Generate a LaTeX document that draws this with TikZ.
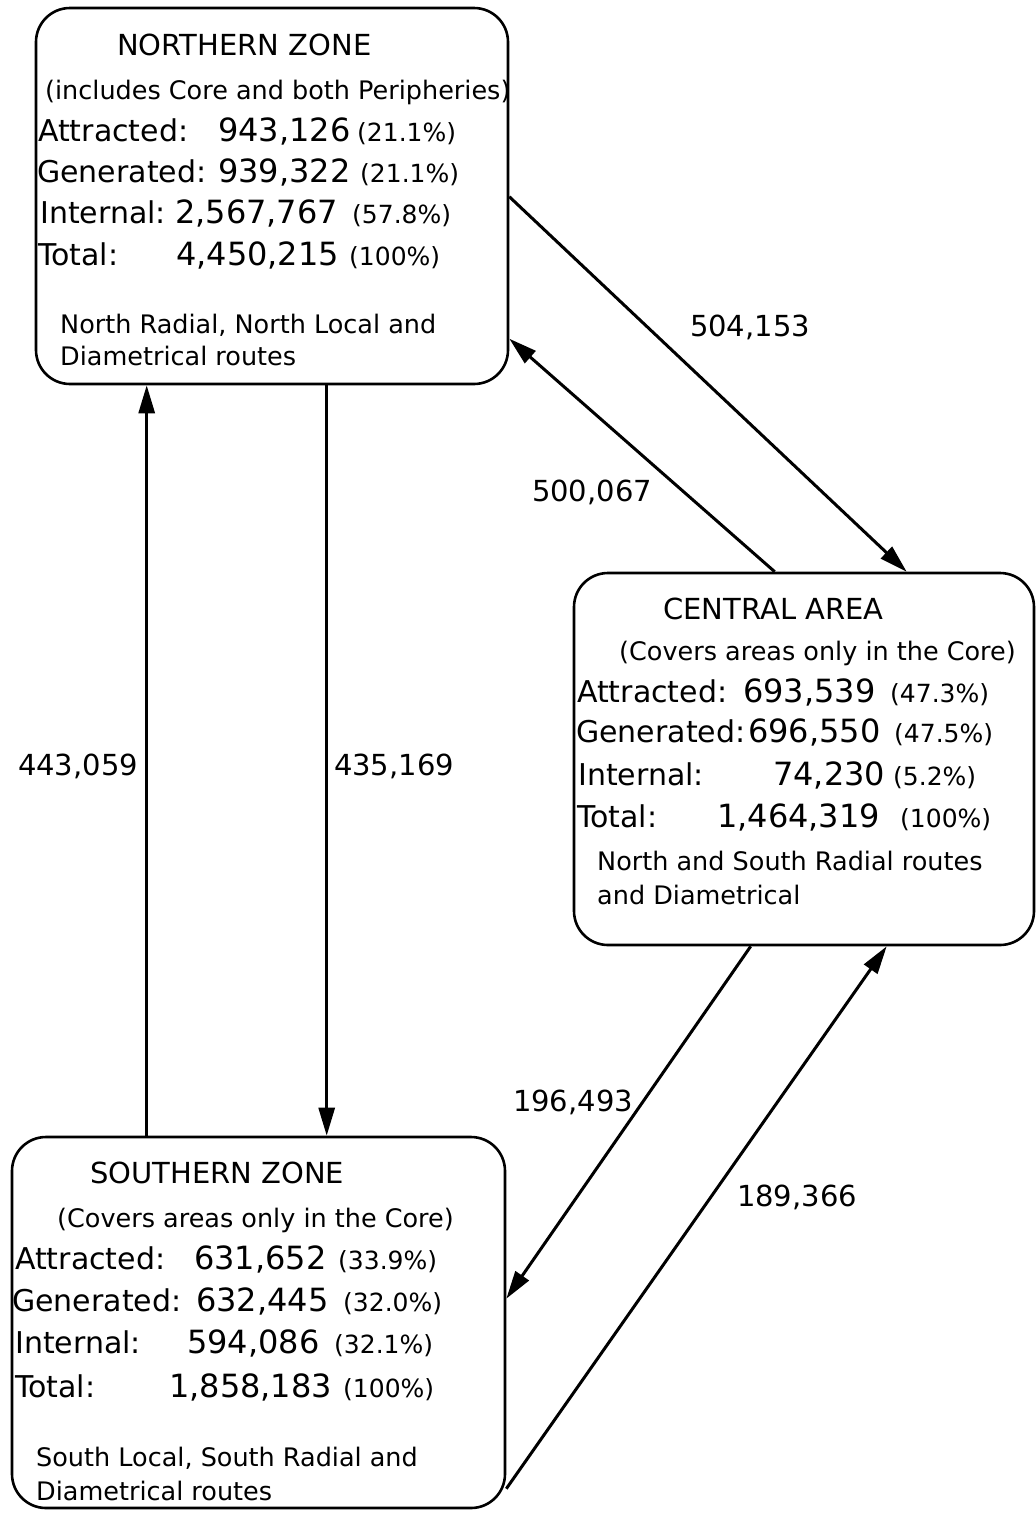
\documentclass[tikz,border=0pt]{standalone}
\usepackage{fontspec}
\setmainfont{DejaVu Sans}
\usetikzlibrary{arrows.meta}
\tikzset{
  zonebox/.style={draw, line width=2.6pt, rounded corners=34pt, inner sep=0pt},
  ttl/.style={anchor=base west, inner sep=0pt, font=\fontsize{29}{34}\selectfont},
  subt/.style={anchor=base west, inner sep=0pt, font=\fontsize{25.5}{30}\selectfont},
  lab/.style={anchor=base west, inner sep=0pt, font=\fontsize{30}{36}\selectfont},
  txt/.style={anchor=base west, inner sep=0pt, font=\fontsize{32}{38}\selectfont},
  pct/.style={anchor=base west, inner sep=0pt, font=\fontsize{25}{30}\selectfont},
  foot/.style={anchor=base west, inner sep=0pt, font=\fontsize{25.5}{30}\selectfont},
  flowlbl/.style={inner sep=0pt, font=\fontsize{29}{34}\selectfont},
  flow/.style={line width=3pt, -{Triangle[length=28pt,width=16pt]}}
}
\newcommand{\dataline}[8]{%
  \node[lab] (#1a) at (#2,#3) {#4};
  \node[txt] (#1b) at (#5,#3) {#6};
  \node[pct] (#1c) at (#7,#3) {#8};}
\begin{document}
\begin{tikzpicture}[x=1pt,y=-1pt]
\useasboundingbox (0,0) rectangle (1036,1513);

% boxes
\node[zonebox, minimum width=472pt, minimum height=376pt] (N) at (272,196) {};
\node[zonebox, minimum width=460pt, minimum height=372pt] (C) at (804,759) {};
\node[zonebox, minimum width=493pt, minimum height=371pt] (S) at (258.5,1322.5) {};

% Northern zone text
\node[ttl] (Nt) at (117,55) {NORTHERN ZONE};
\node[subt] (Ns) at (45,99) {(includes Core and both Peripheries)};
\dataline{Na}{38}{141}{Attracted:}{218}{943,126}{357}{(21.1\%)}
\dataline{Ng}{37}{182}{Generated:}{218}{939,322}{360}{(21.1\%)}
\dataline{Ni}{40}{223}{Internal:}{175}{2,567,767}{352}{(57.8\%)}
\dataline{Nx}{38}{265}{Total:}{176}{4,450,215}{349}{(100\%)}
\node[foot] (Nf1) at (60,333) {North Radial, North Local and};
\node[foot] (Nf2) at (60,365) {Diametrical routes};

% Central area text
\node[ttl] (Ct) at (663,619) {CENTRAL AREA};
\node[subt] (Cs) at (619,660) {(Covers areas only in the Core)};
\dataline{Ca}{577}{702}{Attracted:}{743}{693,539}{890}{(47.3\%)}
\dataline{Cg}{576}{742}{Generated:}{748}{696,550}{894}{(47.5\%)}
\dataline{Ci}{578}{785}{Internal:}{773}{74,230}{893}{(5.2\%)}
\dataline{Cx}{577}{827}{Total:}{717}{1,464,319}{900}{(100\%)}
\node[foot] (Cf1) at (597,870) {North and South Radial routes};
\node[foot] (Cf2) at (597,904) {and Diametrical};

% Southern zone text
\node[ttl] (St) at (90,1183) {SOUTHERN ZONE};
\node[subt] (Ss) at (57,1227) {(Covers areas only in the Core)};
\dataline{Sa}{15}{1269}{Attracted:}{194}{631,652}{338}{(33.9\%)}
\dataline{Sg}{12}{1311}{Generated:}{196}{632,445}{343}{(32.0\%)}
\dataline{Si}{15}{1353}{Internal:}{187}{594,086}{334}{(32.1\%)}
\dataline{Sx}{15}{1397}{Total:}{169}{1,858,183}{343}{(100\%)}
\node[foot] (Sf1) at (36,1466) {South Local, South Radial and};
\node[foot] (Sf2) at (36,1500) {Diametrical routes};

% flows
\draw[flow] ([xshift=136pt]S.north west) -- ([xshift=112pt]N.south west);
\draw[flow] ([xshift=292pt]N.south west) -- ([xshift=316pt]S.north west);
\draw[flow] ([yshift=-190pt]N.north east) -- ([xshift=334pt]C.north west);
\draw[flow] ([xshift=202pt]C.north west) -- ([yshift=-332pt]N.north east);
\draw[flow] ([xshift=178pt]C.south west) -- ([yshift=-163pt]S.north east);
\draw[flow] ([yshift=-353pt]S.north east) -- ([xshift=314pt]C.south west);

% flow labels
\node[flowlbl] (L1) at (78,766) {443,059};
\node[flowlbl] (L2) at (394,766) {435,169};
\node[flowlbl] (L3) at (750,327) {504,153};
\node[flowlbl] (L4) at (592,492) {500,067};
\node[flowlbl] (L5) at (573,1102) {196,493};
\node[flowlbl] (L6) at (797,1197) {189,366};
\end{tikzpicture}
\end{document}
